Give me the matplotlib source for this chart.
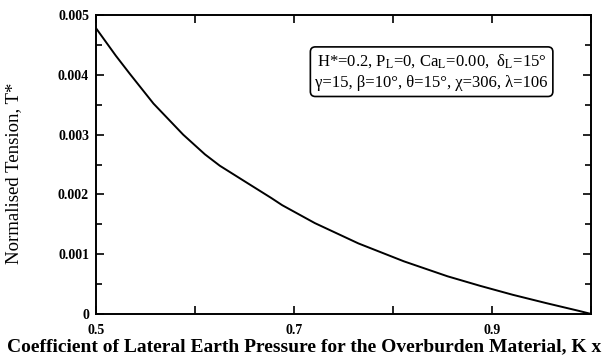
import numpy as np
import matplotlib.pyplot as plt
from matplotlib.ticker import MultipleLocator

# values
K = [0.50, 0.52, 0.534, 0.558, 0.588, 0.610, 0.625, 0.650, 0.677, 0.688, 0.721, 0.765,
     0.811, 0.855, 0.888, 0.921, 0.955, 0.988, 1.00]
T = [0.00478, 0.00432, 0.00402, 0.00352, 0.00300, 0.00267, 0.00248, 0.00222, 0.00194,
     0.00182, 0.00152, 0.00118, 0.00088, 0.00063, 0.00047, 0.00032, 0.00018, 0.00005, 0.0]

xticks = [0.5, 0.6, 0.7, 0.8, 0.9, 1.0]
xlabels = ['0.5', '', '0.7', '', '0.9', '']
yticks = [0, 0.001, 0.002, 0.003, 0.004, 0.005]
ylabels = ['0', '0.001', '0.002', '0.003', '0.004', '0.005']

plt.rcParams['font.family'] = ['Liberation Serif', 'DejaVu Serif']
plt.rcParams['mathtext.fontset'] = 'stix'

fig = plt.figure(figsize=(6.08, 3.6), dpi=100)
ax = fig.add_axes([0.158, 0.128, 0.814, 0.83])

ax.plot(K, T, color='black', lw=1.4)

ax.set_xlim(0.5, 1.0)
ax.set_ylim(0, 0.005)
ax.set_xticks(xticks)
ax.set_xticklabels(xlabels, fontsize=10, fontweight='bold')
ax.set_yticks(yticks)
ax.set_yticklabels(ylabels, fontsize=10, fontweight='bold')
ax.yaxis.set_minor_locator(MultipleLocator(0.0005))
ax.tick_params(which='both', direction='in', top=True, right=True, width=1.2)
ax.tick_params(which='major', length=6)
ax.tick_params(axis='y', pad=5)
ax.tick_params(axis='x', pad=7)
ax.tick_params(which='minor', length=4)
for s in ax.spines.values():
    s.set_linewidth(1.4)

ax.set_ylabel('Normalised Tension, T*', fontsize=13.5)
ax.yaxis.set_label_coords(-0.15, 0.47)
fig.text(0.012, 0.025, 'Coefficient of Lateral Earth Pressure for the Overburden Material, K x',
         fontsize=14, fontweight='bold', ha='left', va='baseline')

box_txt = ('H*=0.2, P$_\\mathrm{L}$=0, Ca$_\\mathrm{L}$=0.00,  δ$_\\mathrm{L}$=15°\n'
           'γ=15, β=10°, θ=15°, χ=306, λ=106')
ax.text(0.678, 0.81, box_txt, transform=ax.transAxes, ha='center', va='center',
        fontsize=12, linespacing=1.45,
        bbox=dict(boxstyle='round,pad=0.3', fc='white', ec='black', lw=1.2))

fig.savefig('out.png', dpi=100)
